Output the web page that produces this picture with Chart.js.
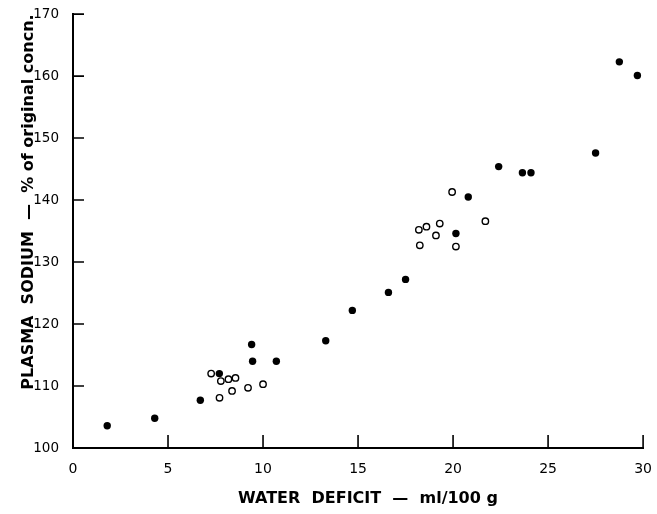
<!DOCTYPE html>
<html>
<head>
<meta charset="utf-8">
<script src="https://cdn.jsdelivr.net/npm/chart.js@4.4.1/dist/chart.umd.min.js"></script>
<style>
  html, body { margin: 0; padding: 0; background: #fff; }
  #wrap { width: 657px; height: 514px; }
</style>
</head>
<body>
<div id="wrap"><canvas id="plot"></canvas></div>
<script>
// tick values
const xTicks = [0, 5, 10, 15, 20, 25, 30];
const yTicks = [100, 110, 120, 130, 140, 150, 160, 170];

// filled circles
const filledX = [1.8, 4.3, 6.7, 7.7, 9.4, 9.45, 10.7, 13.3, 14.7, 16.6, 17.5, 20.15, 20.8, 22.4, 23.65, 24.1, 27.5, 28.75, 29.7];
const filledY = [103.6, 104.8, 107.7, 112.0, 116.7, 114.0, 114.0, 117.3, 122.2, 125.1, 127.2, 134.6, 140.5, 145.4, 144.4, 144.4, 147.6, 162.3, 160.1];

// open circles
const openX = [7.27, 7.78, 8.18, 8.55, 7.71, 8.37, 9.21, 10.0, 18.2, 18.6, 19.3, 19.1, 18.25, 20.15, 19.95, 21.7];
const openY = [112.0, 110.8, 111.1, 111.3, 108.1, 109.2, 109.7, 110.3, 135.2, 135.7, 136.2, 134.3, 132.7, 132.5, 141.3, 136.6];

const xTitle = "WATER  DEFICIT  \u2014  ml/100 g";
const yTitle = "PLASMA  SODIUM  \u2014  % of original concn.";

function toPoints(xs, ys) {
  return xs.map((x, i) => ({ x: x, y: ys[i] }));
}

// inward tick marks and axis titles
const axisExtras = {
  id: "axisExtras",
  afterDraw(chart) {
    const { ctx, chartArea } = chart;
    const x = chart.scales.x;
    const y = chart.scales.y;
    ctx.save();
    ctx.strokeStyle = "#000";
    ctx.lineWidth = 1.6;
    ctx.beginPath();
    xTicks.forEach((v) => {
      const px = x.getPixelForValue(v);
      ctx.moveTo(px, chartArea.bottom);
      ctx.lineTo(px, chartArea.bottom - 13);
    });
    yTicks.forEach((v) => {
      const py = y.getPixelForValue(v);
      ctx.moveTo(chartArea.left, py);
      ctx.lineTo(chartArea.left + 11, py);
    });
    ctx.stroke();

    ctx.fillStyle = "#000";
    ctx.font = "bold 16px 'DejaVu Sans'";
    ctx.textAlign = "center";
    ctx.textBaseline = "middle";
    ctx.fillText(xTitle, 368, 499);

    ctx.translate(29, 202);
    ctx.rotate(-Math.PI / 2);
    ctx.fillText(yTitle, 0, 0);
    ctx.restore();
  },
};

const ctx = document.getElementById("plot").getContext("2d");
new Chart(ctx, {
  type: "scatter",
  data: {
    datasets: [
      {
        data: toPoints(openX, openY),
        backgroundColor: "#fff",
        borderColor: "#000",
        borderWidth: 1.4,
        pointRadius: 3.2,
      },
      {
        data: toPoints(filledX, filledY),
        backgroundColor: "#000",
        borderColor: "#000",
        borderWidth: 0,
        pointRadius: 3.7,
      },
    ],
  },
  options: {
    responsive: true,
    maintainAspectRatio: false,
    animation: false,
    devicePixelRatio: 1,
    layout: { padding: { left: 0, top: 13, right: 12, bottom: 0 } },
    plugins: {
      legend: { display: false },
      tooltip: { enabled: false },
    },
    scales: {
      x: {
        type: "linear",
        min: 0,
        max: 30,
        afterBuildTicks: (s) => { s.ticks = xTicks.map((v) => ({ value: v })); },
        afterFit: (s) => { s.height = 66; },
        grid: { display: false },
        border: { display: true, color: "#000", width: 2 },
        ticks: {
          color: "#000",
          padding: 5,
          maxRotation: 0,
          font: { family: "DejaVu Sans", size: 14 },
        },
      },
      y: {
        type: "linear",
        min: 100,
        max: 170,
        afterBuildTicks: (s) => { s.ticks = yTicks.map((v) => ({ value: v })); },
        afterFit: (s) => { s.width = 73; },
        grid: { display: false },
        border: { display: true, color: "#000", width: 2 },
        ticks: {
          color: "#000",
          padding: 6,
          font: { family: "DejaVu Sans", size: 13.5 },
        },
      },
    },
  },
  plugins: [axisExtras],
});
</script>
</body>
</html>
